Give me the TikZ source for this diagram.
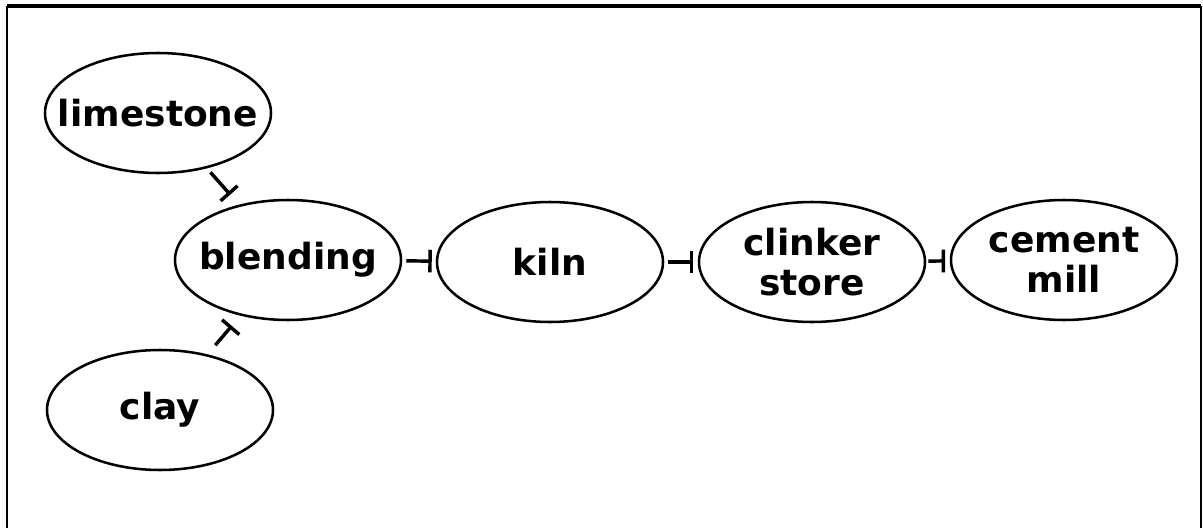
\documentclass[tikz,border=0pt]{standalone}
\usepackage{fontspec}
\newfontfamily\stagefont{DejaVu Sans}
\usetikzlibrary{shapes.geometric,arrows.meta}

\tikzset{every picture/.style={line width=0.75pt}}
\tikzset{
  stage/.style={draw, ellipse, line width=1.9pt, minimum width=169.5pt, minimum height=90pt, inner sep=0pt},
  stagetext/.style={font={\fontsize{27}{29.5}\selectfont\stagefont\bfseries}, align=center, inner sep=0pt},
  feed/.style={line width=2.6pt, -{Bar[width=17pt,line width=2.6pt]}}
}

\begin{document}
\begin{tikzpicture}[x=0.75pt,y=0.75pt,yscale=-1,xscale=1]
\useasboundingbox (0,0) rectangle (1203,528);

%Frame
\draw [line width=3pt] (6.5,6) -- (1201,6) ;
\draw [line width=1.8pt] (7,6) -- (7,528) ;
\draw [line width=1.6pt] (1201,6) -- (1201,528) ;

%Shape: Ellipse
\node [stage, label={[stagetext]center:limestone}] (limestone) at (158,113) {};
%Shape: Ellipse
\node [stage, label={[stagetext]center:blending}] (blending) at (288,260) {};
%Shape: Ellipse
\node [stage, label={[stagetext]center:clay}] (clay) at (160,410) {};
%Shape: Ellipse
\node [stage, label={[stagetext]center:kiln}] (kiln) at (550,262) {};
%Shape: Ellipse
\node [stage, label={[stagetext]center:{clinker\\store}}] (clinker) at (812,262) {};
%Shape: Ellipse
\node [stage, label={[stagetext]center:{cement\\mill}}] (mill) at (1064,260) {};

%Straight Lines
\draw [feed, shorten <=4pt, shorten >=10pt] (limestone) -- (blending) ;
%Straight Lines
\draw [feed, shorten <=9pt, shorten >=10pt] (clay) -- (blending) ;
%Straight Lines
\draw [feed, shorten <=3pt, shorten >=3pt] (blending) -- (kiln) ;
%Straight Lines
\draw [feed, shorten <=2.5pt, shorten >=3.5pt] (kiln) -- (clinker) ;
%Straight Lines
\draw [feed, shorten <=1.5pt, shorten >=3.5pt] (clinker) -- (mill) ;

\end{tikzpicture}
\end{document}
